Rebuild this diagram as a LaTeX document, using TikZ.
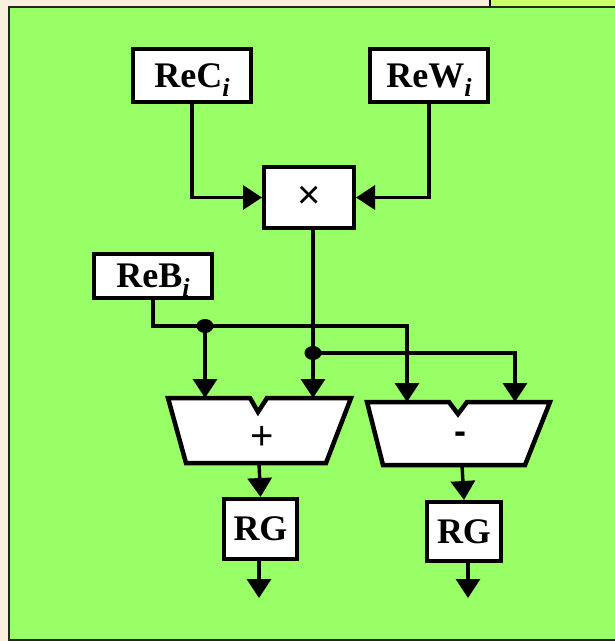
\documentclass[tikz,border=0pt]{standalone}
\usepackage{fontspec}
\setmainfont{Liberation Serif}
\newfontfamily\symfont{Liberation Sans}
\usetikzlibrary{arrows.meta,shapes.geometric}
\definecolor{cream}{HTML}{F8F0DC}
\definecolor{panel}{HTML}{99FF66}
\definecolor{lime}{HTML}{CCFF66}
\tikzset{
  blk/.style={draw=black, line width=4pt, fill=white, inner sep=0pt},
  lbl/.style={font=\fontsize{36}{36}\selectfont\bfseries},
  sym/.style={font=\symfont\fontsize{40}{40}\selectfont},
  wire/.style={line width=3.4pt, line join=miter},
  arr/.style={wire, -{Triangle[width=24pt,length=19pt]}},
  dotc/.style={fill=black, ellipse, inner sep=0pt, minimum width=17pt, minimum height=14pt},
  alu/.style={draw=black, line width=4.5pt, fill=white, line join=miter}
}
\newcommand{\subi}{\smash{\raisebox{-0.25em}{\fontsize{26}{26}\selectfont\bfseries\itshape i}}}
\begin{document}
\begin{tikzpicture}[x=1pt,y=-1pt]
\useasboundingbox (0,0) rectangle (615,641);
\fill[cream] (0,0) rectangle (615,641);
\fill[lime] (490,-5) rectangle (620,7);
\draw[line width=2pt] (490,-5) -- (490,7);
\filldraw[fill=panel, draw=black!85, line width=2.4pt] (9,7) rectangle (625,640);

% source boxes
\node[blk, lbl, minimum width=118pt, minimum height=53pt] (rec) at (192,75.5) {ReC\subi};
\node[blk, lbl, minimum width=118pt, minimum height=53pt] (rew) at (429,75.5) {ReW\subi};
\node[blk, sym, minimum width=90pt, minimum height=61pt] (mul) at (309,197.5) {\symbol{"00D7}};
\node[blk, lbl, minimum width=118pt, minimum height=44pt] (reb) at (153,276) {ReB\subi};

% ALUs
\draw[alu] (168,398) -- (250,398) -- (258,412) -- (267,398) -- (351,398) -- (326,463) -- (186,463) -- cycle;
\node[sym] (plus) at (262,438) {+};
\draw[alu] (367,402) -- (449,402) -- (458,414) -- (467,402) -- (550,402) -- (525,465) -- (383,465) -- cycle;
\node[sym, font=\symfont\fontsize{36}{36}\selectfont\bfseries] (minus) at (460,438) {-};
\coordinate (pa) at (205,398);
\coordinate (pb) at (313,398);
\coordinate (ma) at (407,402);
\coordinate (mb) at (515,402);
\coordinate (pout) at (259,463);
\coordinate (mout) at (462,465);

% registers
\node[blk, lbl, minimum width=73pt, minimum height=60pt] (rg1) at (260.5,529) {RG};
\node[blk, lbl, minimum width=74pt, minimum height=59pt] (rg2) at (464,531.5) {RG};
\coordinate (o1) at (259,598);
\coordinate (o2) at (468,598);

% junctions
\node[dotc] (j1) at (205,326) {};
\node[dotc] (j2) at (313,353) {};

% wires
\draw[arr] (rec.south) |- (mul.west);
\draw[arr] (rew.south) |- (mul.east);
\draw[wire] (reb.south) |- (j1.center);
\draw[arr] (j1.center) -| (ma);
\draw[arr] (j1.center) -- (pa);
\draw[arr] (mul.south -| pb) -- (pb);
\draw[arr] (j2.center) -| (mb);
\draw[arr] (pout) -- (rg1.north);
\draw[arr] (mout) -- (rg2.north);
\draw[arr] (rg1.south -| o1) -- (o1);
\draw[arr] (rg2.south -| o2) -- (o2);
\end{tikzpicture}
\end{document}
